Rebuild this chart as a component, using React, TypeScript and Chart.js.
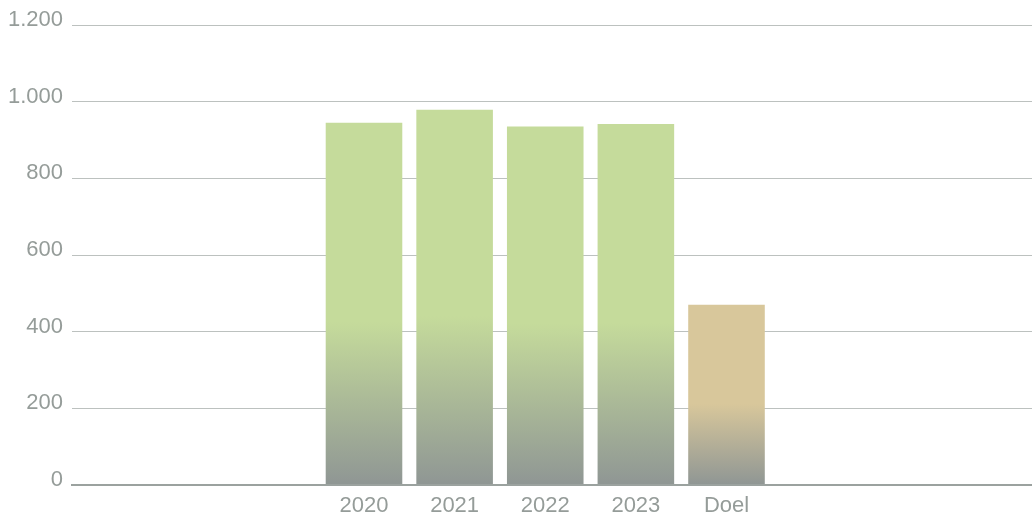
import React, { useEffect, useRef } from "react";
import { Chart, registerables } from "chart.js";

Chart.register(...registerables);

// ---- data ----
const categories: string[] = ["2020", "2021", "2022", "2023", "Doel"];
const values: number[] = [945, 979, 935, 942, 470];
const yTicks: number[] = [0, 200, 400, 600, 800, 1000, 1200];
const yTickLabels: string[] = ["0", "200", "400", "600", "800", "1.000", "1.200"];

// ---- styles ----
const barTopColors: string[] = ["#c5db9b", "#c5db9b", "#c5db9b", "#c5db9b", "#d8c79b"];
const barBottomColor = "#8f9694";
const labelColor = "#959c99";
const gridColor = "#bcc1bf";
const baseLineColor = "#9ba29f";
const fontFamily = "'Liberation Sans', Arial, Helvetica, sans-serif";

export default function App() {
  const canvasRef = useRef<HTMLCanvasElement | null>(null);

  useEffect(() => {
    document.body.style.margin = "0";
    const canvas = canvasRef.current;
    if (!canvas) return;

    const chart = new Chart(canvas, {
      type: "bar",
      data: {
        datasets: [
          {
            data: values.map((v, i) => ({ x: i, y: v })),
            backgroundColor: (ctx: any) => {
              const i = ctx.dataIndex;
              const top = barTopColors[i] ?? barTopColors[0];
              const ch = ctx.chart;
              if (!ch.chartArea || i === undefined) return top;
              const yScale = ch.scales.y;
              const yTop = yScale.getPixelForValue(values[i]);
              const yBot = yScale.getPixelForValue(0);
              const g = ch.ctx.createLinearGradient(0, yTop, 0, yBot);
              g.addColorStop(0, top);
              g.addColorStop(0.55, top);
              g.addColorStop(1, barBottomColor);
              return g;
            },
            borderWidth: 0,
            categoryPercentage: 1,
            barPercentage: 0.845,
          },
        ],
      },
      options: {
        responsive: false,
        animation: false,
        layout: { padding: { top: 25, right: 0, left: 0, bottom: 0 } },
        plugins: {
          legend: { display: false },
          tooltip: { enabled: false },
        },
        scales: {
          x: {
            type: "linear",
            offset: false,
            min: -3.222,
            max: 7.371,
            grid: { display: false, drawTicks: false },
            border: { display: true, color: baseLineColor, width: 2, z: 1 },
            afterBuildTicks: (scale: any) => {
              scale.ticks = categories.map((_, i) => ({ value: i }));
            },
            afterFit: (scale: any) => {
              scale.height = 27;
            },
            ticks: {
              autoSkip: false,
              maxRotation: 0,
              padding: 8,
              color: labelColor,
              font: { family: fontFamily, size: 22 },
              callback: (v: any) => categories[Math.round(Number(v))] ?? "",
            },
          },
          y: {
            min: 0,
            max: 1200,
            afterBuildTicks: (scale: any) => {
              scale.ticks = yTicks.map((v) => ({ value: v }));
            },
            afterFit: (scale: any) => {
              scale.width = 72;
            },
            grid: {
              drawTicks: false,
              color: (ctx: any) => (ctx.tick && ctx.tick.value === 0 ? "rgba(0,0,0,0)" : gridColor),
              lineWidth: 1,
            },
            border: { display: false },
            ticks: {
              padding: 9,
              labelOffset: -5,
              color: labelColor,
              font: { family: fontFamily, size: 22 },
              callback: (v: any) => {
                const idx = yTicks.indexOf(Number(v));
                return idx >= 0 ? yTickLabels[idx] : "";
              },
            },
          },
        },
      },
    } as any);

    return () => chart.destroy();
  }, []);

  return (
    <div style={{ width: 1032, height: 512 }}>
      <canvas ref={canvasRef} width={1032} height={512} />
    </div>
  );
}
